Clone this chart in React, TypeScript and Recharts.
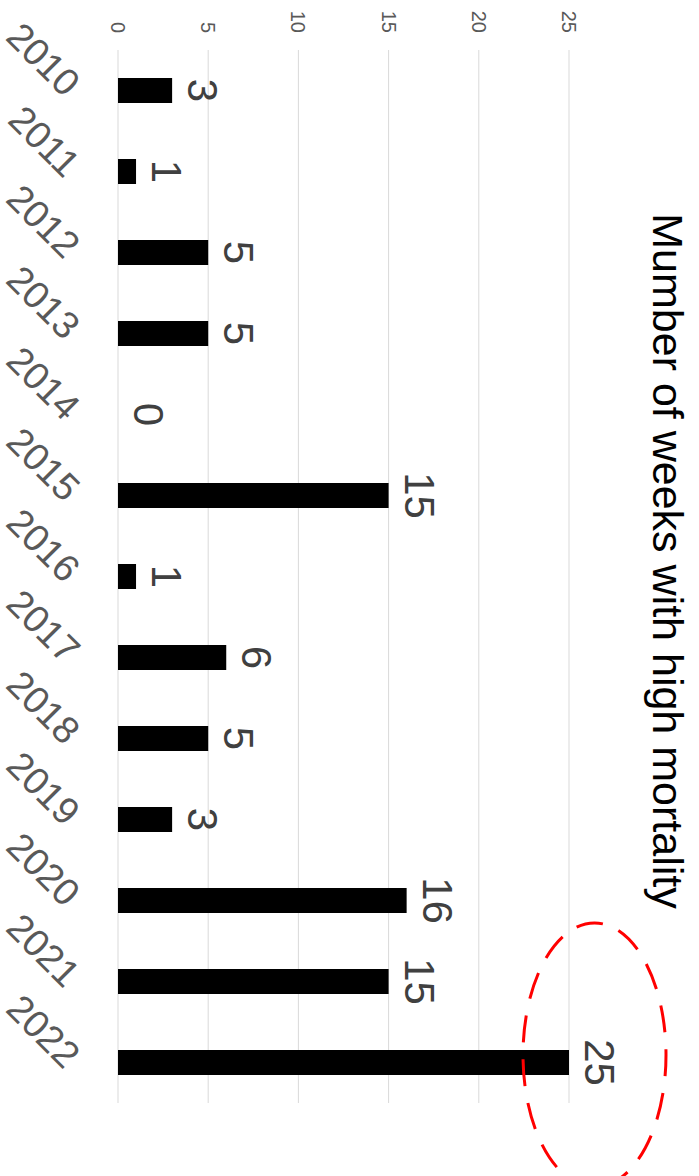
import { Bar, CartesianGrid, ComposedChart, LabelList, Line, ReferenceDot, XAxis, YAxis } from 'recharts'

const years = ['2010', '2011', '2012', '2013', '2014', '2015', '2016', '2017', '2018', '2019', '2020', '2021', '2022']
const weeks = [3, 1, 5, 5, 0, 15, 1, 6, 5, 3, 16, 15, 25]
const valueTicks = [0, 5, 10, 15, 20, 25]
const title = 'Mumber of weeks with high mortality'
const highlightYear = '2022'
const highlightValue = 25

const FONT = '"Liberation Sans", Arial, sans-serif'
const GRAY = '#595959'

const data = years.map((year, i) => ({ year, weeks: weeks[i] }))

function YearTick({ x, y, payload }: { x?: number; y?: number; payload?: { value: string } }) {
  const ax = (x ?? 0) + 8
  const ay = (y ?? 0) + 46
  return (
    <text
      x={ax}
      y={ay}
      transform={`rotate(-45, ${ax}, ${ay})`}
      textAnchor="end"
      fontSize={38}
      fontFamily={FONT}
      fill={GRAY}
    >
      {payload?.value}
    </text>
  )
}

function Ellipse({ cx, cy }: { cx?: number; cy?: number }) {
  return (
    <ellipse
      cx={(cx ?? 0) - 7.5}
      cy={(cy ?? 0) - 25.5}
      rx={132}
      ry={71.5}
      fill="none"
      stroke="#ff0000"
      strokeWidth={3}
      strokeDasharray="27 17"
    />
  )
}

export default function App() {
  return (
    <div style={{ position: 'absolute', left: 0, top: 0, width: 699, height: 1176, overflow: 'hidden', background: '#fff' }}>
      {/* chart is drawn upright, then turned a quarter clockwise like the source image */}
      <div
        style={{
          position: 'absolute',
          left: 0,
          top: 0,
          width: 1176,
          height: 699,
          transformOrigin: '0 0',
          transform: 'translate(699px, 0) rotate(90deg)',
        }}
      >
        <ComposedChart width={1176} height={699} data={data} margin={{ top: 130, right: 73, bottom: 58, left: 0 }}>
          <CartesianGrid vertical={false} stroke="#d9d9d9" />
          <XAxis dataKey="year" axisLine={false} tickLine={false} height={60} interval={0} tick={<YearTick />} />
          <YAxis
            domain={[0, 25]}
            ticks={valueTicks}
            axisLine={false}
            tickLine={false}
            tickMargin={11}
            width={50}
            tick={{ fontSize: 20, fill: GRAY, fontFamily: FONT }}
          />
          <Bar dataKey="weeks" fill="#000" barSize={25} isAnimationActive={false} />
          {/* invisible line only carries the value labels, so the zero bar gets its "0" too */}
          <Line dataKey="weeks" stroke="none" dot={false} activeDot={false} isAnimationActive={false}>
            <LabelList dataKey="weeks" position="top" offset={16} fontSize={42} fill="#404040" fontFamily={FONT} />
          </Line>
          <ReferenceDot x={highlightYear} y={highlightValue} shape={<Ellipse />} />
          <text x={561} y={46} textAnchor="middle" fontSize={43} fontFamily={FONT} fill="#000">
            {title}
          </text>
        </ComposedChart>
      </div>
    </div>
  )
}
